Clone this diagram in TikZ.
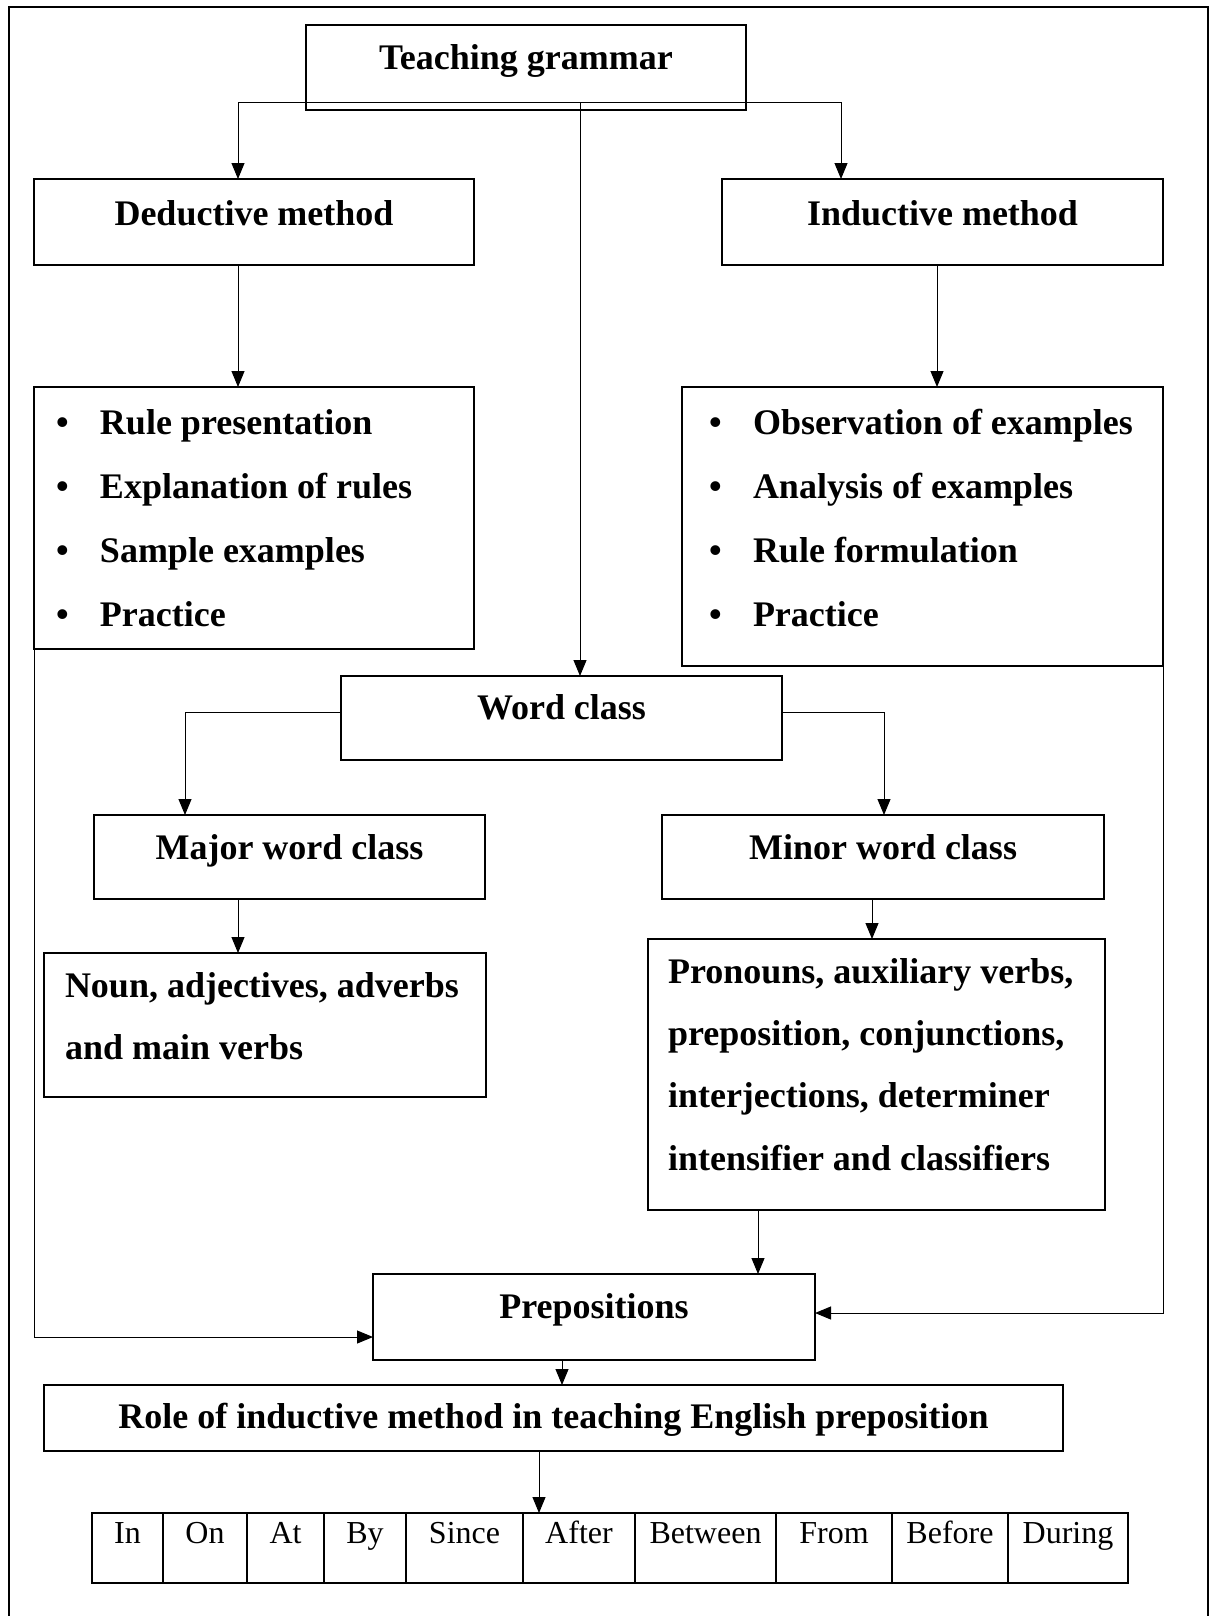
\documentclass[tikz,border=0pt]{standalone}
\usepackage{fontspec}
\setmainfont{Liberation Serif}
\usetikzlibrary{arrows.meta,positioning}

\newcommand{\bul}{\makebox[22pt][l]{\textbullet}}

\begin{document}
\begin{tikzpicture}[x=0.5pt, y=-0.5pt,
    box/.style={draw, line width=0.7pt, inner sep=0pt, outer sep=0pt, anchor=north west,
      text height=22pt, text depth=20pt, font=\bfseries\fontsize{18}{22}\selectfont},
    listbox/.style={draw, line width=0.7pt, inner ysep=0pt, outer sep=0pt, anchor=north west,
      font=\bfseries\fontsize{18}{22}\selectfont},
    cell/.style={draw, line width=0.6pt, inner sep=0pt, outer sep=0pt, anchor=north west,
      text height=15pt, text depth=20pt, font=\fontsize{16}{19}\selectfont},
    arr/.style={line width=0.5pt, -{Triangle[length=8pt,width=6.5pt]}}]
    \useasboundingbox (0,0) rectangle (1212,1616);
    \draw[line width=0.6pt] (9,1616) |- (1208,7) -- (1208,1616);

    % methods
    \node[box, minimum width=220pt, text height=22.5pt] (teach) at (306,25) {Teaching grammar};
    \node[box, minimum width=220pt, text height=23pt] (deduct) at (34,179) {Deductive method};
    \node[box, minimum width=220.5pt, text height=23pt] (induct) at (722,179) {Inductive method};
    \node[listbox, inner xsep=11pt, text height=23.5pt, text depth=107.5pt] (rules) at (34,387)
      {\parbox[t]{198pt}{\baselineskip=32.15pt
        \bul Rule presentation\\
        \bul Explanation of rules\\
        \bul Sample examples\\
        \bul Practice}};
    \node[listbox, inner xsep=13.5pt, text height=23.5pt, text depth=116pt] (steps) at (682,387)
      {\parbox[t]{213.5pt}{\baselineskip=32.15pt
        \bul Observation of examples\\
        \bul Analysis of examples\\
        \bul Rule formulation\\
        \bul Practice}};

    % word classes
    \node[box, minimum width=220.5pt, text height=21.5pt, text depth=20.5pt] (wordcls) at (341,676) {Word class};
    \node[box, minimum width=195.5pt] (major) at (94,815) {Major word class};
    \node[box, minimum width=221pt] (minor) at (662,815) {Minor word class};
    \node[listbox, inner xsep=10.5pt, text height=22pt, text depth=50pt] (nouns) at (44,953)
      {\parbox[t]{200pt}{\baselineskip=31pt
        Noun, adjectives, adverbs\\
        and main verbs}};
    \node[listbox, inner xsep=10pt, text height=22pt, text depth=113.5pt] (closed) at (648,939)
      {\parbox[t]{208.5pt}{\baselineskip=31.2pt
        Pronouns, auxiliary verbs,\\
        preposition, conjunctions,\\
        interjections, determiner\\
        intensifier and classifiers}};
    \node[box, minimum width=221pt, text depth=21pt] (preps) at (373,1274) {Prepositions};
    \node[box, minimum width=509.5pt, text height=21.5pt, text depth=11.5pt] (role) at (44,1385)
      {Role of inductive method in teaching English preposition};

    % prepositions table
    \node[cell, minimum width=35.5pt] (c1) at (92,1513) {In};
    \node[cell, minimum width=42pt] (c2) at (c1.north east) {On};
    \node[cell, minimum width=38.5pt] (c3) at (c2.north east) {At};
    \node[cell, minimum width=41pt] (c4) at (c3.north east) {By};
    \node[cell, minimum width=58.5pt] (c5) at (c4.north east) {Since};
    \node[cell, minimum width=56pt] (c6) at (c5.north east) {After};
    \node[cell, minimum width=70.5pt] (c7) at (c6.north east) {Between};
    \node[cell, minimum width=58pt] (c8) at (c7.north east) {From};
    \node[cell, minimum width=58pt] (c9) at (c8.north east) {Before};
    \node[cell, minimum width=60pt] (c10) at (c9.north east) {During};

    % connectors
    \coordinate (fork) at (580,103);
    \draw[arr] (fork) -| (deduct.north -| 238,0);
    \draw[arr] (fork) -| (induct.north -| 841,0);
    \draw[arr] (fork) -- (wordcls.north -| fork);
    \draw[arr] (deduct.south -| 238,0) -- (rules.north -| 238,0);
    \draw[arr] (induct.south -| 937,0) -- (steps.north -| 937,0);
    \draw[arr] ([yshift=3pt]wordcls.west) -| (major.north -| 185,0);
    \draw[arr] ([yshift=3pt]wordcls.east) -| (minor.north -| 884,0);
    \draw[arr] (major.south -| 238,0) -- (nouns.north -| 238,0);
    \draw[arr] (minor.south -| 872,0) -- (closed.north -| 872,0);
    \draw[arr] (closed.south -| 758,0) -- (preps.north -| 758,0);
    \draw[arr] (rules.south west) |- ([yshift=-10pt]preps.west);
    \draw[arr] (steps.south east) |- ([yshift=2pt]preps.east);
    \draw[arr] (preps.south -| 562,0) -- (role.north -| 562,0);
    \draw[arr] (role.south -| 539,0) -- (c6.north -| 539,0);
\end{tikzpicture}
\end{document}
